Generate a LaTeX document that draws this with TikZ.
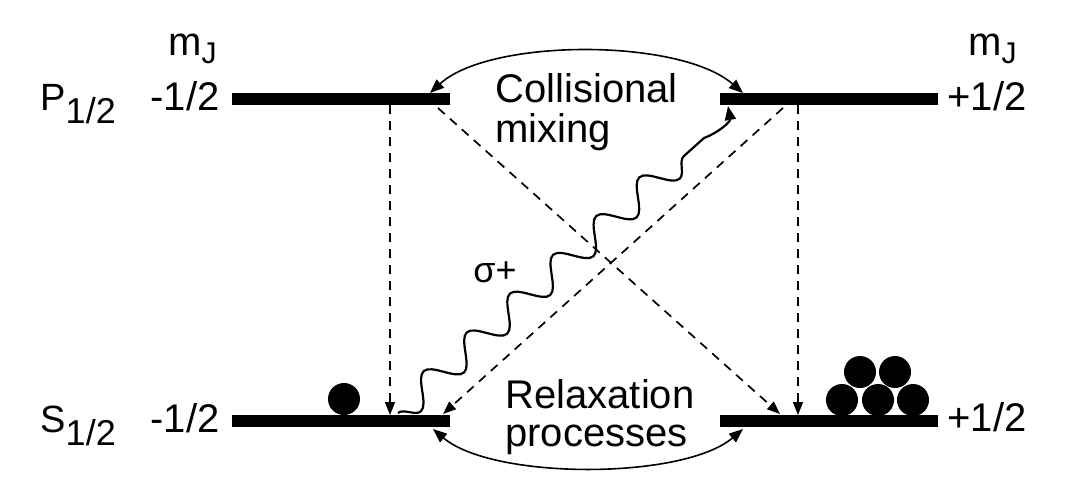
\documentclass[tikz,border=0pt]{standalone}
\usepackage{fontspec}
\setmainfont{Liberation Sans}
\usetikzlibrary{arrows.meta,decorations.pathmorphing}
\begin{document}
\begin{tikzpicture}[x=0.5pt,y=-0.5pt,
  lvl/.style={fill=black, draw=none, minimum width=109pt, minimum height=6pt, inner sep=0pt},
  lbl/.style={inner sep=0pt, font=\fontsize{20}{24}\selectfont},
  dot/.style={circle, fill=black, minimum size=16pt, inner sep=0pt},
  dsh/.style={draw, line width=0.85pt, dash pattern=on 4.5pt off 3.5pt, -{Triangle[length=6.5pt,width=5pt]}},
  arcarrow/.style={draw, line width=0.8pt, {Triangle[length=7pt,width=5.5pt]}-{Triangle[length=7pt,width=5.5pt]}},
  photon/.style={draw, line width=1.1pt, -{Triangle[length=7pt,width=5.5pt]}},
]
\path[use as bounding box] (0,0) rectangle (1084,479);

% levels
\node[lvl] (Pl) at (341,99) {};
\node[lvl] (Pr) at (829,99) {};
\node[lvl] (Sl) at (341,421) {};
\node[lvl] (Sr) at (829,421) {};

% labels
\node[lbl, anchor=base west] (Plab) at (40,110) {\fontsize{19}{24}\selectfont P\raisebox{-6.5pt}{\fontsize{18}{20}\selectfont 1/2}};
\node[lbl, anchor=base west] (Slab) at (40,432) {\fontsize{19}{24}\selectfont S\raisebox{-6.5pt}{\fontsize{18}{20}\selectfont 1/2}};
\node[lbl, anchor=base east] (mPl) at (220,110) {-1/2};
\node[lbl, anchor=base east] (mSl) at (220,432) {-1/2};
\node[lbl, anchor=base west] (mPr) at (947,110) {+1/2};
\node[lbl, anchor=base west] (mSr) at (947,431) {+1/2};
\node[lbl, anchor=base west] (mjl) at (168,55) {m\raisebox{-4pt}{\fontsize{15}{16}\selectfont J}};
\node[lbl, anchor=base west] (mjr) at (968,55) {m\raisebox{-4pt}{\fontsize{15}{16}\selectfont J}};

\node[lbl, anchor=base west] (col1) at (495,102) {Collisional};
\node[lbl, anchor=base west] (col2) at (495,142) {mixing};
\node[lbl, anchor=base west] (rel1) at (505,408) {Relaxation};
\node[lbl, anchor=base west] (rel2) at (505,446) {processes};
\node[inner sep=0pt, anchor=base west, font=\fontsize{18}{20}\selectfont] (sig) at (473,282) {σ+};

% arc endpoints
\coordinate (a1) at (430,93);
\coordinate (a2) at (743,93);
\coordinate (b1) at (433,429);
\coordinate (b2) at (743,429);
\draw[arcarrow] (a1) .. controls +(60,-55) and +(-63,-55) .. (a2);
\draw[arcarrow] (b1) .. controls +(60,51) and +(-60,51) .. (b2);

% dashed decay lines
\coordinate (v1s) at (390,105);
\coordinate (v1e) at (390,415);
\coordinate (v2s) at (798,105);
\coordinate (v2e) at (798,415);
\coordinate (d1s) at (438,108);
\coordinate (d1e) at (780,414);
\coordinate (d2s) at (783,108);
\coordinate (d2e) at (443,414);
\draw[dsh] (v1s) -- (v1e);
\draw[dsh] (v2s) -- (v2e);
\draw[dsh] (d1s) -- (d1e);
\draw[dsh] (d2s) -- (d2e);

% photon
\coordinate (w1) at (398,413);
\coordinate (wm) at (704,138);
\coordinate (w2) at (728,106);
\draw[photon] (w1) decorate[decoration={snake,mirror,segment length=29pt,amplitude=7pt}] {-- (wm)} to[out=20,in=-80] (w2);

% populations
\node[dot] (c0) at (344,399) {};
\node[dot] (c1) at (842,400) {};
\node[dot] (c2) at (878,400) {};
\node[dot] (c3) at (913,400) {};
\node[dot] (c4) at (860,372) {};
\node[dot] (c5) at (895,372) {};
\end{tikzpicture}
\end{document}
